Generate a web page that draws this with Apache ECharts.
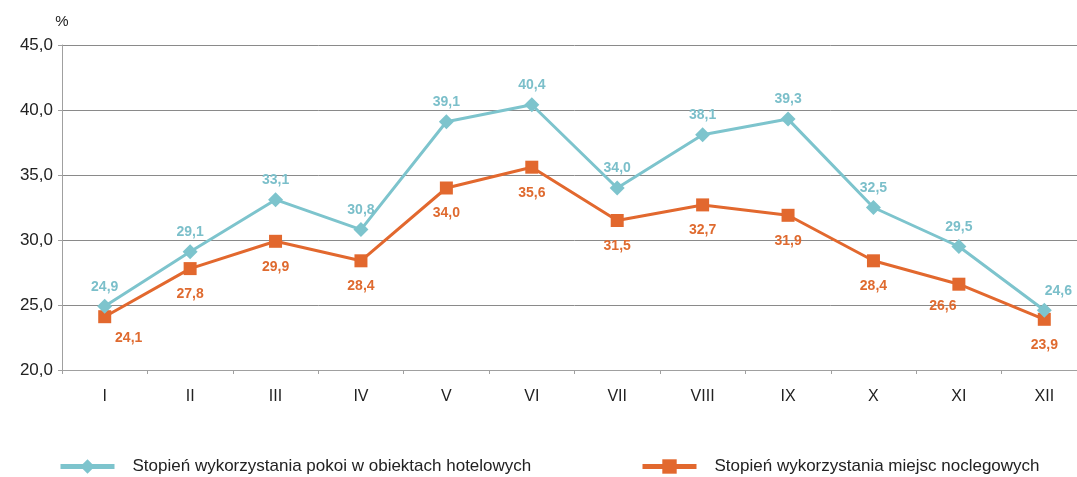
<!DOCTYPE html>
<html>
<head>
<meta charset="utf-8">
<script src="https://cdn.jsdelivr.net/npm/echarts@6/dist/echarts.min.js"></script>
<style>
  html, body { margin: 0; padding: 0; background: #fff; overflow: hidden; }
  #chart { width: 1087px; height: 477px; }
</style>
</head>
<body>
<div id="chart"></div>
<script>
const months = ["I", "II", "III", "IV", "V", "VI", "VII", "VIII", "IX", "X", "XI", "XII"];
const rooms = [24.9, 29.1, 33.1, 30.8, 39.1, 40.4, 34.0, 38.1, 39.3, 32.5, 29.5, 24.6];
const beds = [24.1, 27.8, 29.9, 28.4, 34.0, 35.6, 31.5, 32.7, 31.9, 28.4, 26.6, 23.9];
const roomsName = "Stopień wykorzystania pokoi w obiektach hotelowych";
const bedsName = "Stopień wykorzystania miejsc noclegowych";

const teal = "#7dc4cd";
const orange = "#e2682e";
const font = "'Liberation Sans', Arial, sans-serif";
const fmt = (v) => v.toFixed(1).replace(".", ",");

// a few labels are nudged sideways as in the source
const roomsData = rooms.map((v, i) => {
  const item = { value: v };
  if (i === 11) item.label = { offset: [14, 0] };
  return item;
});
const bedsData = beds.map((v, i) => {
  const item = { value: v };
  if (i === 0) item.label = { offset: [24, -4] };
  if (i === 10) item.label = { offset: [-16, -4] };
  return item;
});

const legendBase = {
  top: 458,
  padding: 0,
  itemWidth: 54,
  itemHeight: 18,
  lineStyle: { width: 5 },
  textStyle: { fontSize: 17, color: "#222", fontFamily: font, padding: [0, 0, 0, 13] }
};

const chart = echarts.init(document.getElementById("chart"));
chart.setOption({
  animation: false,
  textStyle: { fontFamily: font },
  // the plot runs a little past the right edge of the picture
  grid: { left: 62, right: 0, top: 45, bottom: 107, containLabel: false },
  legend: [
    Object.assign({}, legendBase, { left: 58, data: [roomsName] }),
    Object.assign({}, legendBase, { left: 640, data: [bedsName] })
  ],
  xAxis: {
    type: "category",
    data: months,
    boundaryGap: true,
    axisLine: { lineStyle: { color: "#a0a0a0", width: 1 } },
    axisTick: { show: true, length: 4, alignWithLabel: false, lineStyle: { color: "#a0a0a0" } },
    axisLabel: { color: "#222", fontSize: 16, margin: 19 }
  },
  yAxis: {
    type: "value",
    min: 20, max: 45, interval: 5,
    name: "%",
    nameLocation: "end",
    nameGap: 16,
    nameTextStyle: { color: "#222", fontSize: 15, align: "center" },
    axisLine: { show: true, lineStyle: { color: "#a0a0a0" } },
    axisTick: { show: true, length: 4, lineStyle: { color: "#a0a0a0" } },
    axisLabel: { color: "#222", fontSize: 17, margin: 9, formatter: fmt },
    splitLine: { lineStyle: { color: "#8a8a8a", width: 1 } }
  },
  series: [
    {
      name: roomsName,
      type: "line",
      data: roomsData,
      symbol: "diamond",
      symbolSize: 15,
      color: teal,
      lineStyle: { width: 3, color: teal },
      itemStyle: { color: teal },
      label: {
        show: true, position: "top", distance: 5,
        color: "#7bbfca", fontSize: 14, fontWeight: "bold",
        formatter: (p) => fmt(p.value)
      },
      z: 3
    },
    {
      name: bedsName,
      type: "line",
      data: bedsData,
      symbol: "rect",
      symbolSize: 13,
      color: orange,
      lineStyle: { width: 3, color: orange },
      itemStyle: { color: orange },
      label: {
        show: true, position: "bottom", distance: 12,
        color: "#df6a2f", fontSize: 14, fontWeight: "bold",
        formatter: (p) => fmt(p.value)
      },
      z: 2
    }
  ]
});
</script>
</body>
</html>
